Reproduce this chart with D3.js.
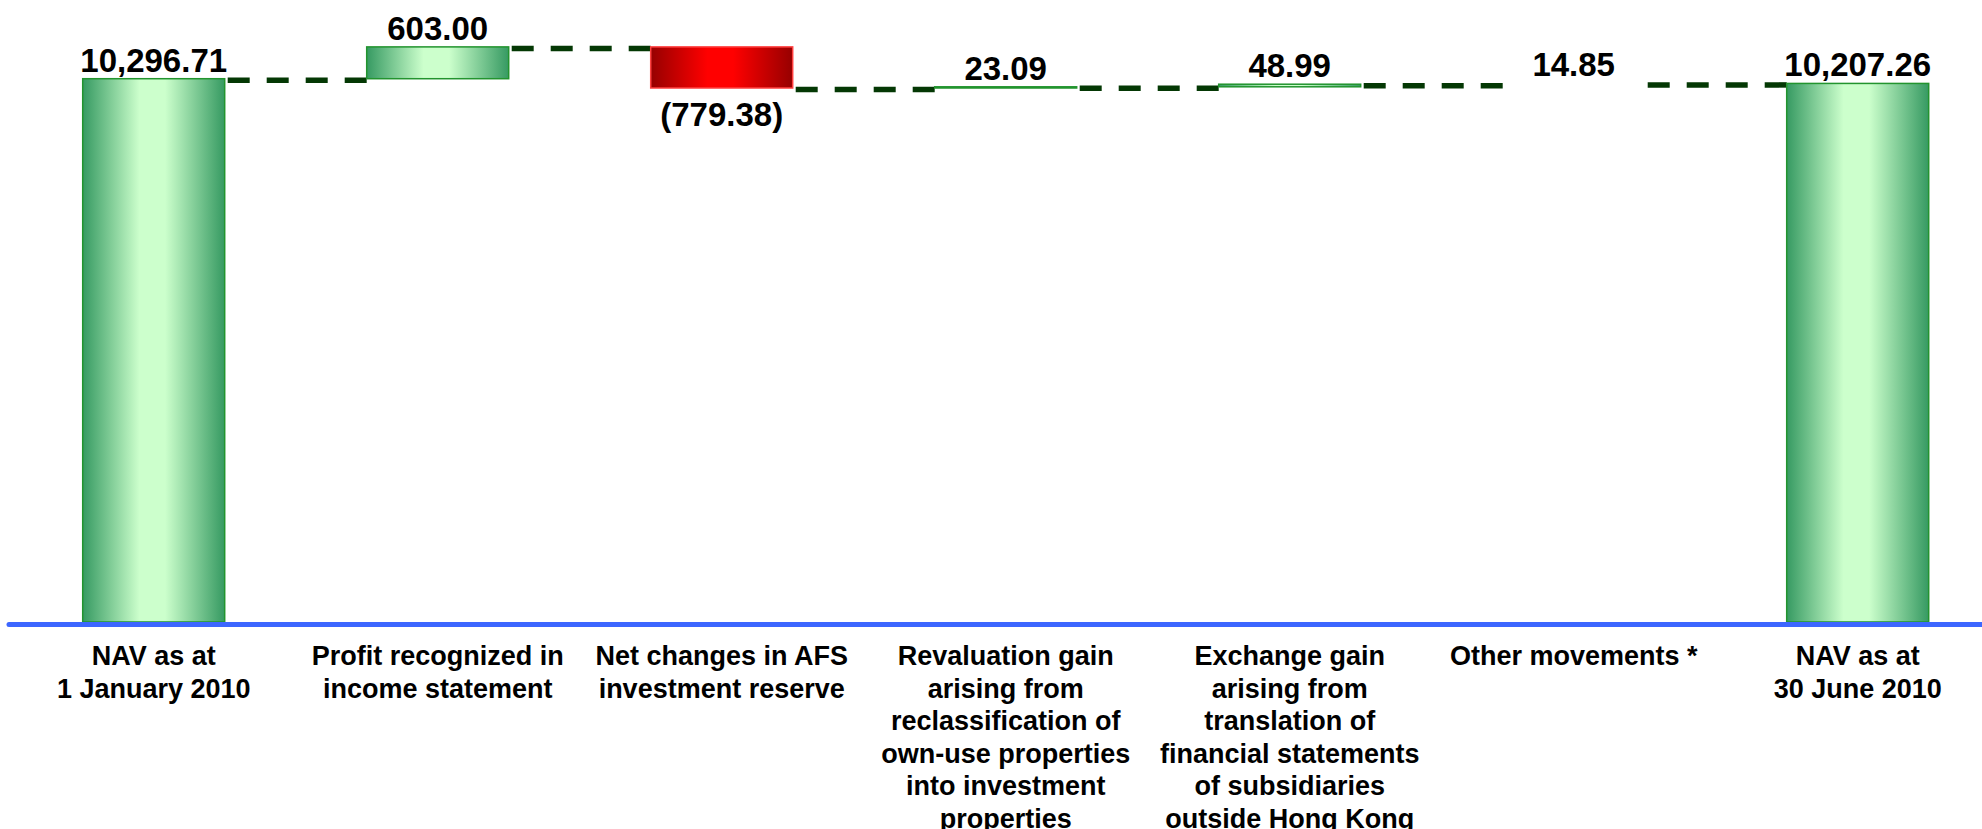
<!DOCTYPE html>
<html>
<head>
<meta charset="utf-8">
<script src="https://cdn.jsdelivr.net/npm/d3@7/dist/d3.min.js"></script>
<style>
  html, body { margin: 0; padding: 0; background: #fff; }
  svg { display: block; }
  text { font-family: "Liberation Sans", Arial, sans-serif; font-weight: bold; fill: #000; }
</style>
</head>
<body>
<svg id="chart" width="1982" height="829"></svg>
<script>
// ---- data ----
const categories = [
  "NAV as at\n1 January 2010",
  "Profit recognized in\nincome statement",
  "Net changes in AFS\ninvestment reserve",
  "Revaluation gain\narising from\nreclassification of\nown-use properties\ninto investment\nproperties",
  "Exchange gain\narising from\ntranslation of\nfinancial statements\nof subsidiaries\noutside Hong Kong",
  "Other movements *",
  "NAV as at\n30 June 2010"
];
const values = [10296.71, 603.00, -779.38, 23.09, 48.99, 14.85, 10207.26];
const kinds = ["total", "delta", "delta", "delta", "delta", "delta", "total"];
const yTicks = [0, 11000];

// ---- layout ----
const W = 1982, H = 829;
const svg = d3.select("#chart");

const x = d3.scaleBand()
  .domain(categories)
  .range([11.7, 1999.7])
  .paddingInner(0.5)
  .paddingOuter(0.25);

const y = d3.scaleLinear()
  .domain(yTicks)
  .range([622, 41.6]);

// compute waterfall segments
let running = 0;
const bars = categories.map((c, i) => {
  let start, end;
  if (kinds[i] === "total") { start = 0; end = values[i]; running = values[i]; }
  else { start = running; end = running + values[i]; running = end; }
  return { cat: c, i, start, end, value: values[i], kind: kinds[i] };
});

// gradients
const defs = svg.append("defs");
function grad(id, edge, mid) {
  const g = defs.append("linearGradient").attr("id", id)
    .attr("x1", "0%").attr("x2", "100%").attr("y1", "0%").attr("y2", "0%");
  g.append("stop").attr("offset", "0%").attr("stop-color", edge);
  g.append("stop").attr("offset", "40%").attr("stop-color", mid);
  g.append("stop").attr("offset", "58%").attr("stop-color", mid);
  g.append("stop").attr("offset", "100%").attr("stop-color", edge);
}
grad("gGreen", "#369a62", "#ccffcc");
grad("gRed", "#960000", "#ff0000");

const hidden = new Set(["Other movements *"]);

// connectors
const conn = svg.append("g");
for (let i = 0; i < bars.length - 1; i++) {
  const lvl = y(bars[i].end) + 1.5;
  conn.append("line")
    .attr("x1", x(bars[i].cat) + x.bandwidth() + 3)
    .attr("x2", x(bars[i + 1].cat))
    .attr("y1", lvl).attr("y2", lvl)
    .attr("stroke", "#043804")
    .attr("stroke-width", 5.5)
    .attr("stroke-dasharray", "22,17");
}

// bars
svg.append("g").selectAll("rect")
  .data(bars.filter(b => !hidden.has(b.cat)))
  .join("rect")
  .attr("x", d => x(d.cat))
  .attr("width", x.bandwidth())
  .attr("y", d => y(Math.max(d.start, d.end)))
  .attr("height", d => Math.max(0.8, Math.abs(y(d.start) - y(d.end))))
  .attr("fill", d => d.value < 0 ? "url(#gRed)" : "url(#gGreen)")
  .attr("stroke", d => d.value < 0 ? "#ff4040" : "#22942e")
  .attr("stroke-width", 1.5);

// baseline
svg.append("line")
  .attr("x1", 9).attr("x2", W)
  .attr("y1", y(0) + 2.5).attr("y2", y(0) + 2.5)
  .attr("stroke", "#3c66ff")
  .attr("stroke-width", 5)
  .attr("stroke-linecap", "round");

// value labels
const fmt = d3.format(",.2f");
svg.append("g").selectAll("text")
  .data(bars)
  .join("text")
  .attr("x", d => x(d.cat) + x.bandwidth() / 2)
  .attr("y", d => d.value < 0 ? y(d.end) + 38 : y(Math.max(d.start, d.end)) - 7)
  .attr("text-anchor", "middle")
  .attr("font-size", 33)
  .text(d => d.value < 0 ? "(" + fmt(-d.value) + ")" : fmt(d.value));

// category labels
const lab = svg.append("g");
categories.forEach(c => {
  const t = lab.append("text")
    .attr("x", x(c) + x.bandwidth() / 2)
    .attr("y", 665)
    .attr("text-anchor", "middle")
    .attr("font-size", 27);
  c.split("\n").forEach((line, k) => {
    t.append("tspan")
      .attr("x", x(c) + x.bandwidth() / 2)
      .attr("dy", k === 0 ? 0 : 32.6)
      .text(line);
  });
});
</script>
</body>
</html>
